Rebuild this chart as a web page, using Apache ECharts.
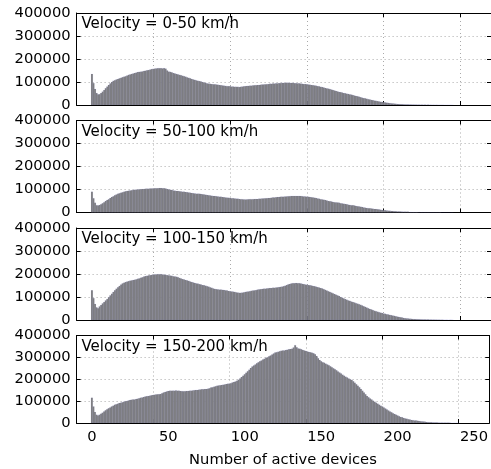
<!DOCTYPE html>
<html>
<head>
<meta charset="utf-8">
<script src="https://cdn.jsdelivr.net/npm/echarts@6/dist/echarts.min.js"></script>
<style>
  html, body { margin: 0; padding: 0; background: #fff; }
  #chart { width: 491px; height: 469px; }
</style>
</head>
<body>
<div id="chart"></div>
<script>
// histogram counts per bin (bin = number of active devices), in thousands
const v0_50 = [135,95,70,52,46,47,52,58,65,73,
  80,87,94,100,105,108,111,113,116,118,
  121,123,125,128,131,133,135,137,139,141,
  143,144,145,146,148,149,151,152,154,156,
  157,158,159,160,160,160,159,160,158,150,
  145,144,142,139,137,135,133,131,129,127,
  125,123,120,118,116,113,111,109,107,105,
  104,102,100,98,96,94,93,92,91,90,
  90,89,88,87,86,85,84,83,82,82,
  81,80,80,79,79,79,78,79,80,81,
  82,83,83,84,84,85,86,86,87,87,
  88,89,89,90,90,91,92,92,93,93,
  94,94,95,95,96,96,96,97,96,96,
  96,96,95,95,94,94,93,92,91,91,
  90,89,88,87,86,85,84,82,81,79,
  78,76,74,72,71,69,67,65,63,61,
  59,57,56,54,52,51,49,48,46,45,
  43,41,39,38,36,34,32,30,29,27,
  25,24,22,21,19,18,17,15,14,13,
  12,11,10,9,8,7,6.5,5.8,5,4.5,
  4,3.6,3.2,2.9,2.6,2.4,2.1,1.9,1.7,1.6,
  1.4,1.3,1.2,1.1,1.0,0.9,0.8,0.7,0.6,0.6,
  0.5,0.4,0.4,0.3,0.3,0.3,0.2,0.2,0.2,0.2,
  0.1,0.1,0.1,0.1,0.1,0.1];

const v50_100 = [90,62,42,32,30,33,36,40,45,50,
  54,58,63,67,71,75,78,81,84,86,
  88,90,92,93,95,96,97,98,99,99,
  100,101,101,102,102,103,103,103,104,104,
  104,105,105,105,106,106,105,105,104,102,
  100,99,98,96,95,94,93,92,91,90,
  90,89,88,87,86,85,84,83,82,81,
  81,80,79,78,77,76,75,74,73,72,
  72,71,70,69,68,67,66,65,64,64,
  63,62,62,61,60,60,59,58,58,57,
  57,57,58,58,58,58,59,59,59,60,
  60,61,61,62,62,63,63,64,65,65,
  66,67,67,68,68,69,70,70,71,71,
  72,72,72,72,72,72,72,71,70,70,
  69,68,67,66,65,64,63,61,60,58,
  57,55,54,52,50,49,48,46,45,44,
  43,42,40,39,38,37,36,34,33,32,
  31,30,28,27,26,25,24,22,21,20,
  19,18,17,16,15.5,15,14,13,12,11,
  10,9.5,9,8,7.5,7,6.4,5.8,5.2,4.8,
  4.5,4.2,3.8,3.5,3.2,3,2.8,2.6,2.4,2.2,
  2,1.9,1.8,1.6,1.5,1.4,1.3,1.2,1.1,1.0,
  1.0,0.9,0.8,0.8,0.7,0.7,0.6,0.6,0.5,0.5,
  0.4,0.4,0.3,0.3,0.2,0.2];

const v100_150 = [129,95,70,55,51,59,65,72,78,85,
  91,99,107,114,122,129,136,142,148,154,
  159,162,165,167,169,171,172,174,175,177,
  179,181,184,186,189,191,192,194,195,196,
  197,198,198,199,199,199,198,197,196,195,
  194,193,192,190,189,188,186,183,180,178,
  176,174,172,170,167,165,163,161,159,158,
  156,154,152,151,149,147,145,142,140,137,
  135,134,133,132,132,131,130,129,128,126,
  125,124,123,122,120,119,118,118,119,120,
  122,123,124,125,127,128,129,130,132,133,
  134,135,136,136,137,138,139,139,140,140,
  141,142,143,144,145,147,149,152,155,157,
  159,160,160,161,160,160,159,157,156,154,
  153,152,151,150,148,147,145,143,141,139,
  137,134,131,128,125,122,119,116,113,110,
  107,104,100,97,94,91,88,85,83,80,
  78,76,73,71,68,66,63,60,57,54,
  51,48,46,43,40,38,36,34,32,30,
  28,27,25,24,22,21,19,18,16,14.5,
  13,12,10.5,9,8,7,6.3,5.6,5,4.5,
  4,3.7,3.3,3,2.7,2.5,2.3,2.1,1.9,1.7,
  1.5,1.4,1.3,1.2,1.1,1.0,0.9,0.8,0.7,0.6,
  0.5,0.5,0.4,0.3,0.3,0.2];

const v150_200 = [115,75,50,38,34,38,42,47,53,58,
  63,67,71,75,79,83,86,88,91,93,
  95,97,99,101,103,105,106,107,108,110,
  111,113,115,117,119,121,122,124,125,127,
  128,129,130,131,132,133,136,139,142,144,
  146,147,147,148,148,149,148,147,146,145,
  145,145,146,146,147,148,149,150,151,151,
  152,153,154,154,155,155,157,159,162,164,
  166,168,170,171,173,174,175,176,178,179,
  180,182,185,188,190,193,198,204,210,216,
  223,230,237,244,251,258,263,268,273,278,
  282,286,290,294,298,301,305,309,313,318,
  322,324,326,328,330,331,332,334,335,337,
  338,340,345,356,346,341,339,337,334,331,
  329,327,325,323,321,319,314,306,296,288,
  282,278,275,271,268,264,260,255,250,246,
  241,236,231,226,221,216,212,208,204,200,
  197,191,184,177,170,164,156,148,139,131,
  123,118,112,107,102,97,93,88,84,79,
  75,71,66,62,57,53,49,45,41,38,
  34,31,28,26,23,21,19,17,16,14,
  13,12,11,10,9,8,7.2,6.3,5.5,4.7,
  4,3.6,3.2,2.8,2.4,2,1.8,1.6,1.4,1.2,
  1,0.9,0.8,0.7,0.6,0.5,0.4,0.4,0.3,0.3,0.3];

const panelNames = ['Velocity = 0-50 km/h', 'Velocity = 50-100 km/h', 'Velocity = 100-150 km/h', 'Velocity = 150-200 km/h'];
const panelData = [v0_50, v50_100, v100_150, v150_200];
const xTicks = [0, 50, 100, 150, 200, 250];

const FONT = 'DejaVu Sans';
const FS = 14.7;
const tops = [13, 120.5, 228, 335.5];
const panelH = 92;

var chart = echarts.init(document.getElementById('chart'));

const grids = [];
const xAxes = [];
const yAxes = [];
const series = [];
const graphics = [];

const dotted = { show: true, lineStyle: { color: '#aaa', type: [1, 3], width: 1 } };
const blackLine = { show: true, onZero: false, lineStyle: { color: '#000', width: 1 } };
const inTick = { show: true, inside: true, length: 4, lineStyle: { color: '#000' } };

panelData.forEach((vals, i) => {
  grids.push({ left: 76.6, right: -1.1, top: tops[i], height: panelH });
  const isLast = i === panelData.length - 1;
  // bottom x axis
  xAxes.push({
    type: 'value', gridIndex: i, min: -10, max: 260, interval: 50, position: 'bottom',
    axisLine: blackLine,
    axisTick: inTick,
    axisLabel: { show: isLast, color: '#000', fontFamily: FONT, fontSize: FS, margin: 7,
      customValues: xTicks, formatter: (v) => String(v) },
    splitLine: dotted,
    name: isLast ? 'Number of active devices' : '',
    nameLocation: 'middle', nameGap: 30,
    nameTextStyle: { color: '#000', fontFamily: FONT, fontSize: FS },
  });
  // top x axis (ticks only)
  xAxes.push({
    type: 'value', gridIndex: i, min: -10, max: 260, interval: 50, position: 'top',
    axisLine: blackLine,
    axisTick: inTick,
    axisLabel: { show: false }, splitLine: { show: false },
  });
  yAxes.push({
    type: 'value', gridIndex: i, min: 0, max: 400000, interval: 100000, position: 'left',
    axisLine: blackLine,
    axisTick: inTick,
    axisLabel: { color: '#000', fontFamily: FONT, fontSize: FS, margin: 6,
      formatter: (v) => String(v) },
    splitLine: dotted,
  });
  yAxes.push({
    type: 'value', gridIndex: i, min: 0, max: 400000, interval: 100000, position: 'right',
    axisLine: blackLine,
    axisTick: inTick,
    axisLabel: { show: false }, splitLine: { show: false },
  });

  series.push({
    type: 'custom',
    xAxisIndex: i * 2,
    yAxisIndex: i * 2,
    clip: true,
    data: vals.map((v, k) => [k, v * 1000]),
    renderItem: function (params, api) {
      const p0 = api.coord([api.value(0) - 0.5, api.value(1)]);
      const p1 = api.coord([api.value(0) + 0.5, 0]);
      return {
        type: 'rect',
        shape: { x: p0[0] - 0.15, y: p0[1], width: p1[0] - p0[0] + 0.3, height: p1[1] - p0[1] },
        style: { fill: '#7f7f7f', stroke: 'rgba(110,110,255,0.22)', lineWidth: 0.3 },
      };
    },
  });

  graphics.push({
    type: 'text', left: 81.5, top: tops[i] + 4, z: 100,
    style: { text: panelNames[i], fill: '#000', font: '15px "' + FONT + '"' },
  });
});

chart.setOption({
  animation: false,
  grid: grids,
  xAxis: xAxes,
  yAxis: yAxes,
  series: series,
  graphic: graphics,
});
</script>
</body>
</html>
